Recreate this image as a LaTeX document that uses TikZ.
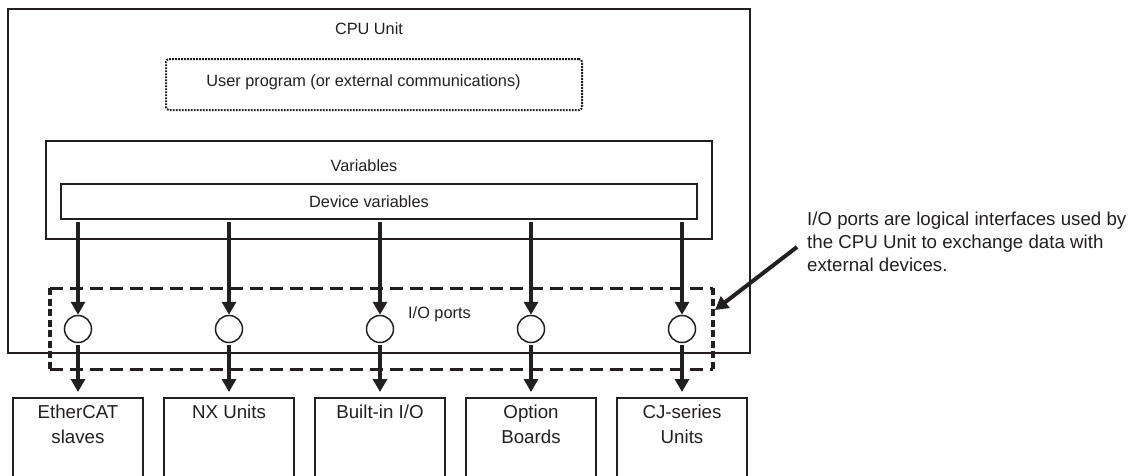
\documentclass[tikz,border=0pt]{standalone}
\usepackage{fontspec}
\setmainfont{Liberation Sans}
\usetikzlibrary{arrows.meta,calc}
\definecolor{ink}{HTML}{231F20}
\begin{document}
\begin{tikzpicture}[x=1pt,y=-1pt,
  every node/.style={text=ink},
  small/.style={font=\fontsize{16.3}{19}\selectfont, inner sep=0, anchor=base},
  big/.style={font=\fontsize{18.7}{23}\selectfont, inner sep=0},
  frame/.style={draw=ink, line width=1.3pt, inner sep=0, outer sep=0},
  arr/.style={draw=ink, line width=4pt, -{Triangle[length=13pt,width=14pt]}},
  port/.style={circle, draw=ink, line width=1.5pt, minimum size=27pt, inner sep=0},
  unitbox/.style={draw=ink, line width=1.5pt, minimum width=130pt, minimum height=90pt, anchor=north, inner sep=0, outer sep=0},
  unitlabel/.style={big, font=\fontsize{18.7}{25}\selectfont, anchor=north, align=center},
  hdash/.style={draw=ink, line width=3pt, dash pattern=on 13pt off 7pt},
  vdash/.style={draw=ink, line width=3.5pt, dash pattern=on 7pt off 3.5pt},
]
\useasboundingbox (0,0) rectangle (1141,475);
\clip (0,0) rectangle (1141,475);

% CPU unit and inner frames
\node[frame, line width=2pt, minimum width=742pt, minimum height=344pt] (cpu) at (379,181) {};
\node[frame, line width=2pt, dash pattern=on 1.8pt off 1.2pt, rounded corners=3pt, minimum width=416pt, minimum height=51pt] (prog) at (374,84.5) {};
\node[frame, minimum width=666pt, minimum height=98pt] (vars) at (379,190) {};
\node[frame, minimum width=636pt, minimum height=35pt] (dev) at (379,201.5) {};

\node[small] (cputxt) at (369,34) {CPU Unit};
\node[small] (progtxt) at (363.5,86.5) {User program (or external communications)};
\node[small] (varstxt) at (364,171) {Variables};
\node[small] (devtxt) at (369,207.5) {Device variables};

% I/O ports dashed region
\node[inner sep=0, outer sep=0, minimum width=663pt, minimum height=81pt] (io) at (381.5,328.5) {};
\draw[hdash] (io.north west) -- (io.north east);
\draw[hdash] (io.south west) -- (io.south east);
\draw[vdash] (io.north west) -- (io.south west);
\draw[vdash] (io.north east) -- (io.south east);
\node[small, anchor=base west] (iotxt) at (408,318) {I/O ports};

% ports
\foreach \i/\x in {1/78,2/229,3/380,4/531,5/682}{
  \node[port] (c\i) at (\x,329) {};
  \node[unitbox] (b\i) at (\x,398) {};
}
\node[unitlabel] (l1) at ($(b1.north)+(0,7)$) {EtherCAT\\slaves};
\node[unitlabel] (l2) at ($(b2.north)+(0,7)$) {NX Units};
\node[unitlabel] (l3) at ($(b3.north)+(0,7)$) {Built-in I/O};
\node[unitlabel] (l4) at ($(b4.north)+(0,7)$) {Option\\Boards};
\node[unitlabel] (l5) at ($(b5.north)+(0,7)$) {CJ-series\\Units};

\foreach \i in {1,...,5}{
  \draw[arr, shorten <=3pt] (c\i |- dev.south) -- (c\i.north);
  \draw[arr, shorten <=2pt, shorten >=6pt] (c\i.south) -- (b\i.north);
}

% annotation
\node[big, anchor=north west, align=left] (note) at (807,212)
  {I/O ports are logical interfaces used by\\the CPU Unit to exchange data with\\external devices.};
\coordinate (notetail) at (797,247);
\draw[arr] (notetail) -- ([xshift=2pt,yshift=18.5pt]io.east);
\end{tikzpicture}
\end{document}
